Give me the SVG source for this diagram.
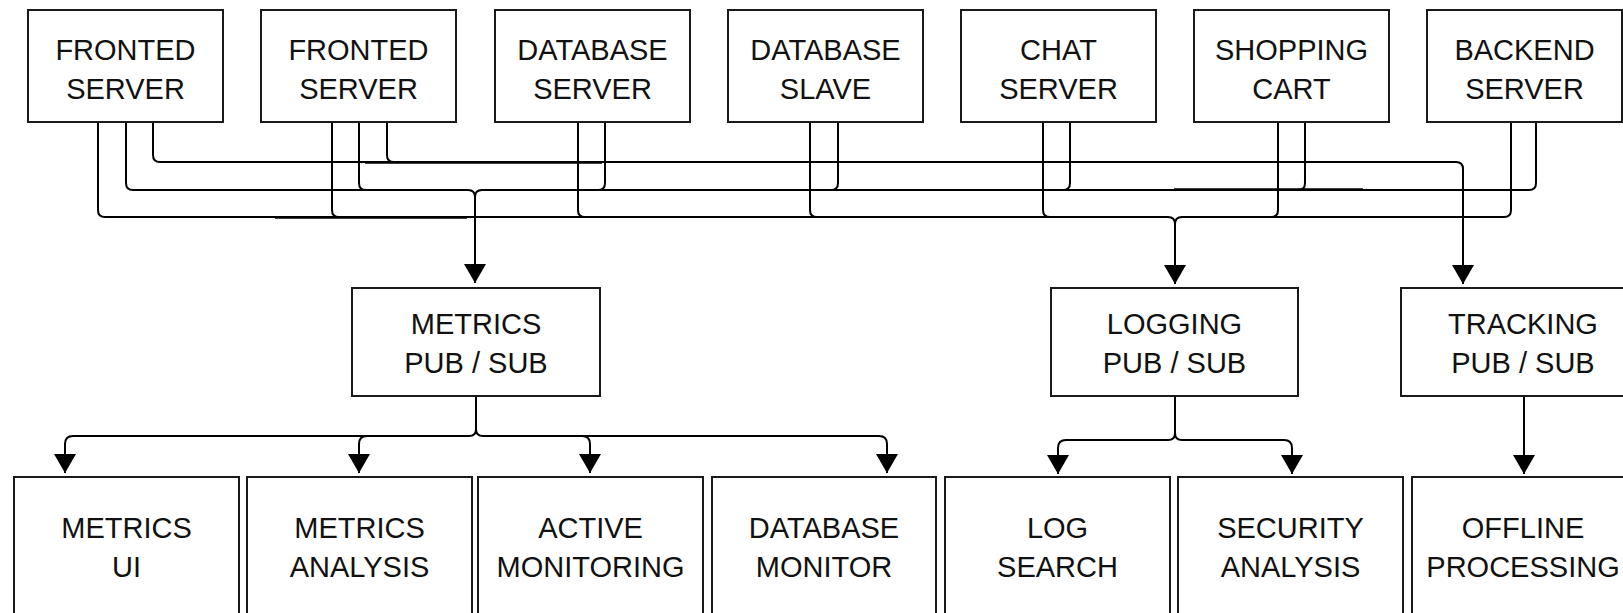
<svg xmlns="http://www.w3.org/2000/svg" width="1623" height="613" viewBox="0 0 1623 613">
<style>
.box{fill:#fff;stroke:#1a1a1a;stroke-width:2}
.lbl{font-family:"Liberation Sans",Arial,sans-serif;font-size:29px;fill:#111;text-anchor:middle}
.wire{fill:none;stroke:#000;stroke-width:2}
.dup{fill:none;stroke:#000;stroke-width:1.5}
</style>
<defs>
<marker id="ah" markerUnits="userSpaceOnUse" viewBox="0 0 19 22" markerWidth="19" markerHeight="22" refX="19" refY="11" orient="auto">
<path d="M0,0 L19,11 L0,22 z" fill="#000"/>
</marker>
</defs>
<rect width="1623" height="613" fill="#fff"/>

<g id="connectors">
<!-- top bus to tracking -->
<path class="wire" d="M153,122 V155 Q153,162 160,162 H1456 Q1463,162 1463,169 V284" marker-end="url(#ah)"/>
<path class="wire" d="M387,122 V155 Q387,162 394,162"/>
<path class="dup" d="M365,163 H602"/>
<!-- middle bus to metrics -->
<path class="wire" d="M126,122 V183 Q126,190 133,190 H468 Q475,190 475,197"/>
<path class="wire" d="M359,122 V183 Q359,190 366,190"/>
<path class="wire" d="M1536,122 V183 Q1536,190 1529,190 H482 Q475,190 475,197 V283" marker-end="url(#ah)"/>
<path class="wire" d="M605,122 V183 Q605,190 598,190"/>
<path class="wire" d="M838,122 V183 Q838,190 831,190"/>
<path class="wire" d="M1070,122 V183 Q1070,190 1063,190"/>
<path class="wire" d="M1305,122 V183 Q1305,190 1298,190"/>
<path class="dup" d="M1174,189 H1363"/>
<!-- bottom bus to logging -->
<path class="wire" d="M98,122 V210 Q98,217 105,217 H1168 Q1175,217 1175,224"/>
<path class="wire" d="M332,122 V210 Q332,217 339,217"/>
<path class="wire" d="M578,122 V210 Q578,217 585,217"/>
<path class="wire" d="M810,122 V210 Q810,217 817,217"/>
<path class="wire" d="M1043,122 V210 Q1043,217 1050,217"/>
<path class="wire" d="M1511,122 V210 Q1511,217 1504,217 H1182 Q1175,217 1175,224 V284" marker-end="url(#ah)"/>
<path class="wire" d="M1278,122 V210 Q1278,217 1271,217"/>
<path class="dup" d="M275,218 H467"/>
<!-- metrics fan-out -->
<path class="wire" d="M476,396 V429 Q476,436 469,436 H73 Q65,436 65,444 V473" marker-end="url(#ah)"/>
<path class="wire" d="M476,429 Q476,436 483,436 H879 Q887,436 887,444 V473" marker-end="url(#ah)"/>
<path class="wire" d="M367,436 Q359,436 359,444 V473" marker-end="url(#ah)"/>
<path class="wire" d="M582,436 Q590,436 590,444 V473" marker-end="url(#ah)"/>
<!-- logging fan-out -->
<path class="wire" d="M1175,396 V433 Q1175,440 1168,440 H1066 Q1058,440 1058,448 V474" marker-end="url(#ah)"/>
<path class="wire" d="M1175,433 Q1175,440 1182,440 H1284 Q1292,440 1292,448 V474" marker-end="url(#ah)"/>
<!-- tracking out -->
<path class="wire" d="M1524,396 V474" marker-end="url(#ah)"/>
</g>

<g id="n-fronted1"><rect class="box" x="28" y="10" width="195" height="112"/><text class="lbl" x="125.5" y="60">FRONTED<tspan x="125.5" y="99">SERVER</tspan></text></g>
<g id="n-fronted2"><rect class="box" x="261" y="10" width="195" height="112"/><text class="lbl" x="358.5" y="60">FRONTED<tspan x="358.5" y="99">SERVER</tspan></text></g>
<g id="n-dbserver"><rect class="box" x="495" y="10" width="195" height="112"/><text class="lbl" x="592.5" y="60">DATABASE<tspan x="592.5" y="99">SERVER</tspan></text></g>
<g id="n-dbslave"><rect class="box" x="728" y="10" width="195" height="112"/><text class="lbl" x="825.5" y="60">DATABASE<tspan x="825.5" y="99">SLAVE</tspan></text></g>
<g id="n-chat"><rect class="box" x="961" y="10" width="195" height="112"/><text class="lbl" x="1058.5" y="60">CHAT<tspan x="1058.5" y="99">SERVER</tspan></text></g>
<g id="n-cart"><rect class="box" x="1194" y="10" width="195" height="112"/><text class="lbl" x="1291.5" y="60">SHOPPING<tspan x="1291.5" y="99">CART</tspan></text></g>
<g id="n-backend"><rect class="box" x="1427" y="10" width="195" height="112"/><text class="lbl" x="1524.5" y="60">BACKEND<tspan x="1524.5" y="99">SERVER</tspan></text></g>

<g id="n-metrics"><rect class="box" x="352" y="288" width="248" height="108"/><text class="lbl" x="476" y="334">METRICS<tspan x="476" y="373">PUB / SUB</tspan></text></g>
<g id="n-logging"><rect class="box" x="1051" y="288" width="247" height="108"/><text class="lbl" x="1174.5" y="334">LOGGING<tspan x="1174.5" y="373">PUB / SUB</tspan></text></g>
<g id="n-tracking"><rect class="box" x="1401" y="288" width="248" height="108"/><text class="lbl" x="1523" y="334">TRACKING<tspan x="1523" y="373">PUB / SUB</tspan></text></g>

<g id="n-metricsui"><rect class="box" x="14" y="477" width="225" height="160"/><text class="lbl" x="126.5" y="538">METRICS<tspan x="126.5" y="577">UI</tspan></text></g>
<g id="n-metricsanalysis"><rect class="box" x="247" y="477" width="225" height="160"/><text class="lbl" x="359.5" y="538">METRICS<tspan x="359.5" y="577">ANALYSIS</tspan></text></g>
<g id="n-activemon"><rect class="box" x="478" y="477" width="225" height="160"/><text class="lbl" x="590.5" y="538">ACTIVE<tspan x="590.5" y="577">MONITORING</tspan></text></g>
<g id="n-dbmonitor"><rect class="box" x="712" y="477" width="224" height="160"/><text class="lbl" x="824" y="538">DATABASE<tspan x="824" y="577">MONITOR</tspan></text></g>
<g id="n-logsearch"><rect class="box" x="945" y="477" width="225" height="160"/><text class="lbl" x="1057.5" y="538">LOG<tspan x="1057.5" y="577">SEARCH</tspan></text></g>
<g id="n-security"><rect class="box" x="1178" y="477" width="225" height="160"/><text class="lbl" x="1290.5" y="538">SECURITY<tspan x="1290.5" y="577">ANALYSIS</tspan></text></g>
<g id="n-offline"><rect class="box" x="1412" y="477" width="225" height="160"/><text class="lbl" x="1523" y="538">OFFLINE<tspan x="1523" y="577">PROCESSING</tspan></text></g>
</svg>
